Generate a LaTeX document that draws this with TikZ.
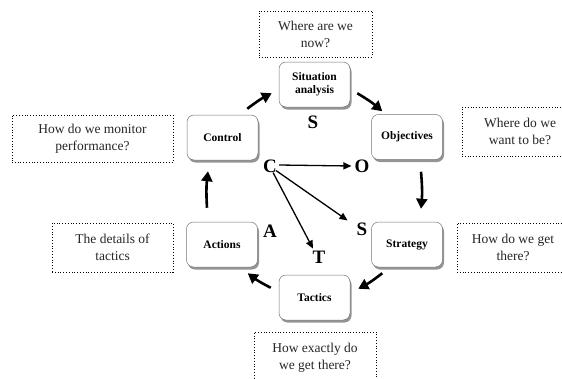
\documentclass[tikz,border=0pt]{standalone}
\usepackage{fontspec}
\setmainfont{Liberation Serif}
\usetikzlibrary{shadows,arrows.meta}
\begin{document}
\begin{tikzpicture}[x=1pt,y=-1pt,
  stagebox/.style={draw=black!55, line width=0.5pt, rounded corners=7pt, fill=white,
    minimum width=71pt, minimum height=45pt, align=center, inner sep=2pt,
    font=\fontsize{11.5}{13}\selectfont\bfseries,
    drop shadow={shadow xshift=1.5pt, shadow yshift=-2.5pt, fill=black!60, opacity=0.7}},
  qbox/.style={draw=black, dotted, line width=0.8pt, align=center, inner sep=2pt,
    font=\fontsize{13.5}{17}\selectfont, text=black!85},
  letter/.style={font=\fontsize{19}{20}\selectfont\bfseries, inner sep=1pt},
  cyc/.style={line width=2.6pt, -{Triangle[length=10pt,width=11pt]}},
  thin/.style={line width=1.3pt, -{Triangle[length=8pt,width=7pt]}}
]
\useasboundingbox (0,0) rectangle (562,378);
\clip (0,0) rectangle (562,378);

% dotted question boxes
\node[qbox, minimum width=113pt, minimum height=46pt] (qsit) at (315.5,34) {Where are we\\now?};
\node[qbox, minimum width=161pt, minimum height=47pt] (qctl) at (92.5,138.5) {How do we monitor\\performance?};
\node[qbox, minimum width=121pt, minimum height=49pt] (qact) at (112.5,247.5) {The details of\\tactics};
\node[qbox, minimum width=116pt, minimum height=49pt] (qobj) at (520,131.5) {Where do we\\want to be?};
\node[qbox, minimum width=112pt, minimum height=49pt] (qstr) at (513,247.5) {How do we get\\there?};
\node[qbox, minimum width=122pt, minimum height=52pt] (qtac) at (315,358) {How exactly do\\we get there?};

% stage boxes
\node[stagebox] (sit) at (314.5,84.5) {Situation\\analysis};
\node[stagebox] (obj) at (407,137) {Objectives};
\node[stagebox] (str) at (407,244.5) {Strategy};
\node[stagebox] (tac) at (314.5,297.5) {Tactics};
\node[stagebox] (act) at (222,244.5) {Actions};
\node[stagebox] (ctl) at (222.5,137.5) {Control};

% letters
\node[letter] (S1) at (313,122) {S};
\node[letter] (C) at (270,166) {C};
\node[letter] (O) at (362,166) {O};
\node[letter] (S2) at (362,229) {S};
\node[letter] (A) at (270,231) {A};
\node[letter] (T) at (319,257) {T};

% cycle arrows
\draw[cyc] ([shift={(-11,-6)}]ctl.north east) to[bend left=5] ([shift={(-7,-14)}]sit.south west);
\draw[cyc] ([shift={(7,-14)}]sit.south east) to[bend left=5] ([shift={(11,-3)}]obj.north west);
\draw[cyc] ([shift={(14,12)}]obj.south) to[bend left=5] ([shift={(14,-13)}]str.north);
\draw[cyc] ([shift={(11,6)}]str.south west) to[bend left=5] ([shift={(8,14)}]tac.north east);
\draw[cyc] ([shift={(-8,13)}]tac.north west) to[bend left=5] ([shift={(-10,6)}]act.south east);
\draw[cyc] ([shift={(-15,-14)}]act.north) to[bend left=5] ([shift={(-14.5,11)}]ctl.south);

% arrows from C
\draw[thin] ([shift={(1,-1)}]C.east) -- ([xshift=-2]O.west);
\draw[thin] ([shift={(-2,-3)}]C.south east) -- ([shift={(-8,-1)}]S2.north west);
\draw[thin] ([shift={(-5,-1)}]C.south east) -- ([shift={(-6,-1)}]T.north);
\end{tikzpicture}
\end{document}
